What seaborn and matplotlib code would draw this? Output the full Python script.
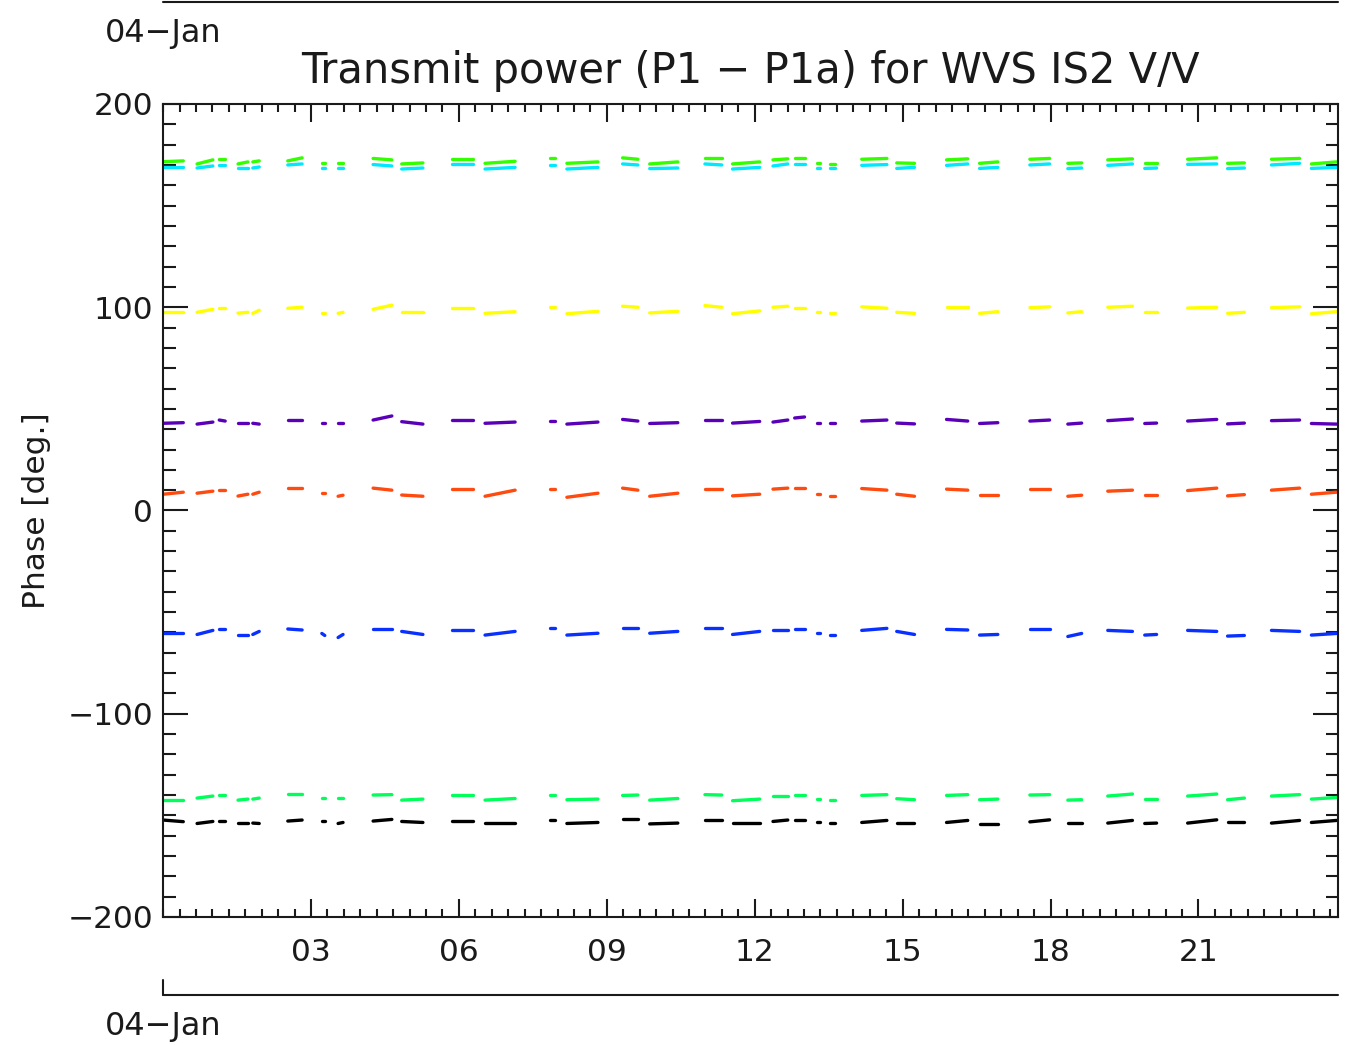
"""
Transmit power phase (P1 - P1a) for WVS IS2 V/V, one day of segments
"""

import numpy as np
import pandas as pd
import matplotlib.pyplot as plt
import seaborn as sns
from matplotlib.ticker import MultipleLocator, FuncFormatter

# segment start / end times [hours since 04-Jan 00:00]
seg_start = [0.00, 0.69, 1.14, 1.52, 1.82, 2.53, 3.22, 3.55, 4.26, 4.84, 5.86, 6.53,
             7.85, 8.19, 9.32, 9.87, 10.99, 11.55, 12.37, 12.81, 13.26, 13.52, 14.17,
             14.88, 15.89, 16.56, 17.58, 18.35, 19.16, 19.91, 20.78, 21.59, 22.48, 23.29]
seg_end = [0.41, 1.01, 1.26, 1.72, 1.95, 2.82, 3.28, 3.65, 4.64, 5.27, 6.28, 7.14,
           7.95, 8.82, 9.63, 10.44, 11.33, 12.10, 12.67, 13.01, 13.32, 13.63, 14.68,
           15.24, 16.32, 16.93, 17.98, 18.63, 19.66, 20.15, 21.37, 21.93, 23.05, 23.80]

series_names = ['black', 'green_low', 'blue', 'orange', 'purple', 'yellow', 'cyan', 'green_top']
series_colors = ['#000000', '#00ff5a', '#0a30ff', '#ff4a10', '#5a00b8', '#ffff00', '#00e8ff', '#33ff00']

black_start = [-152.3, -154.0, -153.0, -153.8, -153.8, -152.8, -153.0, -154.0, -152.8, -153.0, -153.0, -154.0,
               -152.5, -154.0, -152.0, -154.2, -152.2, -154.0, -153.0, -152.5, -153.5, -154.0, -153.5,
               -154.0, -153.5, -154.2, -153.2, -154.0, -153.8, -154.0, -153.8, -153.5, -153.8, -153.5]
black_end = [-153.1, -153.0, -153.0, -153.8, -154.0, -152.3, -153.0, -153.5, -152.0, -153.5, -153.0, -154.0,
             -152.5, -153.5, -152.0, -153.8, -152.2, -154.0, -152.3, -152.5, -153.5, -154.0, -152.5,
             -154.0, -152.5, -154.2, -152.2, -154.0, -152.5, -153.8, -152.2, -153.5, -152.5, -152.5]

green_low_start = [-142.5, -141.5, -140.0, -142.5, -142.0, -139.5, -141.7, -141.7, -140.0, -142.5, -140.0, -142.5,
                   -140.0, -142.3, -140.2, -142.5, -139.8, -142.8, -140.5, -139.8, -142.0, -142.5, -140.2,
                   -141.8, -140.2, -142.3, -140.0, -142.5, -140.5, -142.0, -140.5, -142.3, -140.5, -142.0]
green_low_end = [-142.5, -140.5, -140.0, -142.0, -141.5, -139.5, -141.7, -141.7, -139.8, -142.0, -140.0, -141.7,
                 -140.0, -142.0, -140.0, -141.7, -140.0, -142.0, -140.5, -139.8, -142.0, -142.5, -139.8,
                 -142.3, -139.8, -142.0, -139.8, -142.3, -139.5, -142.0, -139.5, -141.5, -139.8, -141.2]

blue_start = [-60.4, -61.0, -58.5, -61.3, -61.0, -58.3, -60.5, -62.5, -58.3, -59.5, -58.8, -61.3,
              -58.0, -61.3, -58.0, -60.4, -58.0, -61.0, -59.0, -58.5, -60.5, -61.3, -59.0,
              -59.5, -58.5, -61.3, -58.5, -62.0, -59.0, -61.3, -59.0, -61.8, -59.0, -61.3]
blue_end = [-60.4, -59.0, -58.5, -61.3, -59.5, -58.8, -61.5, -61.0, -58.3, -61.0, -58.8, -59.5,
            -58.0, -60.4, -58.0, -59.5, -58.0, -59.5, -59.0, -58.5, -60.5, -61.3, -58.0,
            -61.0, -58.8, -61.0, -58.5, -60.5, -59.5, -61.0, -59.5, -61.5, -59.5, -60.5]

orange_start = [8.0, 8.5, 10.1, 7.1, 8.0, 11.0, 8.5, 7.0, 11.0, 7.6, 10.5, 7.0,
                10.5, 6.5, 11.0, 7.0, 10.8, 7.2, 10.5, 11.0, 8.0, 7.0, 10.8,
                8.0, 10.5, 7.5, 10.5, 7.0, 9.5, 7.5, 9.8, 7.2, 10.0, 8.0]
orange_end = [9.0, 9.5, 10.1, 8.0, 9.0, 11.0, 8.5, 7.5, 10.0, 7.0, 10.5, 10.0,
              10.5, 8.5, 10.0, 8.5, 10.8, 8.0, 11.0, 11.0, 8.0, 7.0, 10.0,
              7.0, 10.0, 7.5, 10.5, 7.5, 10.0, 7.5, 11.0, 7.8, 11.0, 9.0]

purple_start = [42.9, 42.5, 44.5, 42.9, 42.9, 44.5, 42.9, 43.0, 44.5, 43.7, 44.5, 42.9,
                44.0, 42.5, 44.8, 42.8, 44.6, 43.0, 43.5, 45.5, 43.0, 42.8, 44.0,
                43.0, 44.8, 42.8, 44.0, 42.5, 44.2, 42.8, 44.0, 42.6, 44.2, 42.8]
purple_end = [43.2, 43.5, 44.0, 42.9, 42.5, 44.5, 42.9, 43.0, 46.5, 42.5, 44.5, 43.5,
              44.0, 43.5, 44.0, 43.2, 44.6, 43.8, 44.5, 46.0, 43.0, 42.8, 44.5,
              42.6, 44.0, 43.2, 44.5, 43.0, 45.0, 43.0, 44.8, 43.0, 44.5, 42.5]

yellow_start = [97.8, 97.5, 99.6, 97.1, 97.0, 99.5, 97.0, 97.0, 99.0, 97.5, 99.6, 97.0,
                100.3, 96.8, 100.5, 97.2, 100.8, 96.8, 100.0, 99.5, 97.5, 97.0, 100.2,
                97.5, 100.0, 97.0, 99.8, 97.2, 100.0, 97.5, 99.6, 97.0, 99.8, 96.8]
yellow_end = [97.8, 99.0, 99.6, 97.5, 98.5, 100.0, 97.0, 97.5, 101.0, 97.5, 99.6, 97.8,
              100.3, 98.0, 100.0, 98.0, 100.0, 98.2, 100.5, 99.5, 97.5, 97.0, 99.5,
              97.0, 100.0, 97.8, 100.2, 97.8, 100.5, 97.5, 100.0, 97.5, 100.2, 97.8]

cyan_start = [169.0, 168.5, 170.0, 168.5, 168.5, 170.0, 168.5, 168.5, 170.2, 168.0, 170.5, 168.0,
              170.0, 168.0, 170.5, 168.2, 170.5, 168.0, 169.5, 170.5, 168.5, 168.5, 169.8,
              168.3, 169.8, 168.3, 170.0, 168.2, 169.8, 168.3, 170.3, 168.2, 170.0, 168.3]
cyan_end = [169.0, 169.5, 170.0, 168.5, 169.0, 170.5, 168.5, 168.5, 169.5, 168.5, 170.5, 168.8,
            170.0, 168.8, 170.0, 168.5, 170.0, 168.8, 170.5, 170.5, 168.5, 168.5, 170.2,
            168.8, 170.5, 168.8, 170.5, 168.5, 170.5, 168.5, 170.5, 168.5, 170.8, 168.8]

green_top_start = [171.6, 170.5, 173.0, 170.5, 171.5, 172.0, 171.0, 170.8, 173.2, 170.5, 173.0, 170.8,
                   173.5, 170.8, 173.5, 170.5, 173.3, 170.5, 172.5, 173.5, 171.0, 170.5, 172.8,
                   171.0, 172.5, 170.8, 172.8, 170.8, 172.5, 170.8, 172.8, 170.8, 172.8, 170.5]
green_top_end = [172.0, 172.5, 173.0, 171.5, 172.0, 173.5, 171.0, 170.8, 172.5, 171.0, 173.0, 171.8,
                 173.5, 171.5, 172.8, 171.5, 173.3, 171.5, 173.0, 173.5, 171.0, 170.5, 173.2,
                 170.8, 173.0, 171.5, 173.2, 171.0, 173.0, 170.8, 173.5, 171.0, 173.2, 171.5]

series_values = {
    'black': (black_start, black_end),
    'green_low': (green_low_start, green_low_end),
    'blue': (blue_start, blue_end),
    'orange': (orange_start, orange_end),
    'purple': (purple_start, purple_end),
    'yellow': (yellow_start, yellow_end),
    'cyan': (cyan_start, cyan_end),
    'green_top': (green_top_start, green_top_end),
}

# long form table: two points per segment
rows = []
for name in series_names:
    starts, ends = series_values[name]
    for i, (t0, t1, v0, v1) in enumerate(zip(seg_start, seg_end, starts, ends)):
        rows.append((name, i, t0, v0))
        rows.append((name, i, t1, v1))
df = pd.DataFrame(rows, columns=['series', 'seg', 't', 'phase'])

sns.set_theme(style='ticks')
plt.rcParams['font.family'] = ['DejaVu Sans']
plt.rcParams['text.color'] = 'k'
plt.rcParams['axes.labelcolor'] = 'k'

fig = plt.figure(figsize=(13.51, 10.45), dpi=100)
ax = fig.add_axes([0.1207, 0.1225, 0.8697, 0.778])

sns.lineplot(data=df, x='t', y='phase', hue='series', units='seg', estimator=None,
             hue_order=series_names, palette=dict(zip(series_names, series_colors)),
             legend=False, lw=2.4, sort=False, ax=ax)

ax.set_xlim(0, 23.83)
ax.set_ylim(-200, 200)
ax.set_xticks([3, 6, 9, 12, 15, 18, 21])
ax.xaxis.set_minor_locator(MultipleLocator(1 / 3))
ax.xaxis.set_major_formatter(FuncFormatter(lambda v, p: f'{int(round(v)):02d}'))
ax.set_yticks([-200, -100, 0, 100, 200])
ax.yaxis.set_minor_locator(MultipleLocator(10))

ax.tick_params(which='both', direction='in', top=True, right=True, width=1.5,
               color='k', labelsize=22.5, labelcolor='k')
ax.tick_params(axis='x', which='major', length=13, pad=15)
ax.tick_params(axis='x', which='minor', length=5.5)
ax.tick_params(axis='y', which='major', length=18, pad=7)
ax.tick_params(axis='y', which='minor', length=9)
for sp in ax.spines.values():
    sp.set_color('k')
    sp.set_linewidth(1.5)

ax.set_xlabel('')
ax.set_ylabel('Phase [deg.]', fontsize=22.5, color='k', labelpad=12)
ax.set_title('Transmit power (P1 \u2212 P1a) for WVS IS2 V/V', fontsize=30, pad=15, color='k')

# IDL style date axes above and below the plot
ax.plot([0, 1], [1.125, 1.125], transform=ax.transAxes, clip_on=False, color='k', lw=1.5)
ax.text(0, 1.0873, '04\u2212Jan', transform=ax.transAxes, ha='center', va='center', fontsize=23)
ax.plot([0, 1], [-0.0959, -0.0959], transform=ax.transAxes, clip_on=False, color='k', lw=1.5)
ax.plot([0, 0], [-0.0775, -0.0959], transform=ax.transAxes, clip_on=False, color='k', lw=1.5)
ax.text(0, -0.1353, '04\u2212Jan', transform=ax.transAxes, ha='center', va='center', fontsize=23)

plt.savefig('out.png', dpi=100)
plt.close()
